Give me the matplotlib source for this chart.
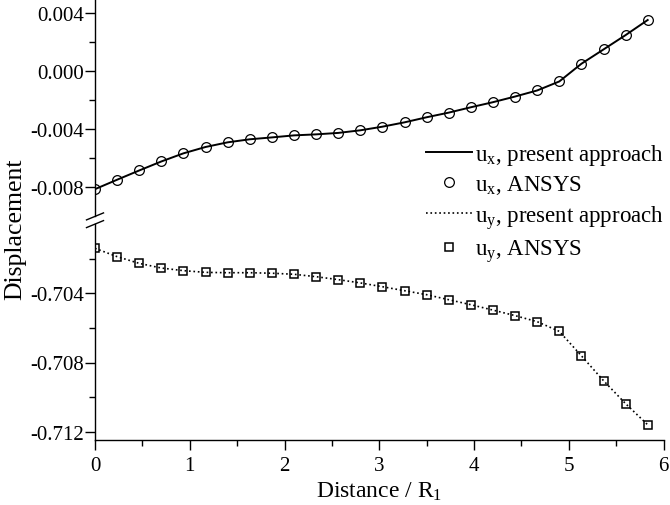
import numpy as np
import matplotlib
matplotlib.use("Agg")
import matplotlib.pyplot as plt
from matplotlib.ticker import MultipleLocator, FixedLocator, FormatStrFormatter

plt.rcParams['font.family'] = ['Liberation Serif', 'DejaVu Serif']
plt.rcParams['mathtext.fontset'] = 'custom'
plt.rcParams['mathtext.rm'] = 'Liberation Serif'
plt.rcParams['mathtext.it'] = 'Liberation Serif:italic'
plt.rcParams['axes.unicode_minus'] = False

# distance / R1
dist = [0.0, 0.233, 0.467, 0.7, 0.933, 1.167, 1.4, 1.633, 1.867, 2.1,
        2.333, 2.567, 2.8, 3.033, 3.267, 3.5, 3.733, 3.967, 4.2, 4.433,
        4.667, 4.9, 5.133, 5.367, 5.6, 5.833]

ux = [-0.00812, -0.00747, -0.00683, -0.00621, -0.00565, -0.00521, -0.00489,
      -0.00468, -0.00455, -0.00441, -0.00434, -0.00424, -0.00406, -0.00381,
      -0.00351, -0.00316, -0.00284, -0.00247, -0.00212, -0.00173, -0.00131,
      -0.00069, 0.00053, 0.00152, 0.00251, 0.00355]

uy = [-0.70140, -0.70188, -0.70227, -0.70254, -0.70269, -0.70279, -0.70281,
      -0.70281, -0.70284, -0.70290, -0.70304, -0.70321, -0.70340, -0.70362,
      -0.70385, -0.70408, -0.70437, -0.70466, -0.70497, -0.70529, -0.70564,
      -0.70620, -0.70761, -0.70905, -0.71038, -0.71160]

top_ticks = [-0.008, -0.004, 0.000, 0.004]
bot_ticks = [-0.712, -0.708, -0.704]

W, H = 670, 506
fig = plt.figure(figsize=(W / 100, H / 100), dpi=100)

left = 95 / W
width = (663.5 - 95) / W
ax_top = fig.add_axes([left, 1 - 217.4 / H, width, 217.4 / H])
ax_bot = fig.add_axes([left, 1 - 441.35 / H, width, (441.35 - 225.1) / H])

l1, = ax_top.plot(dist, ux, '-', color='black', lw=1.4)
m1, = ax_top.plot(dist, ux, 'o', mfc='none', mec='black', ms=7, mew=0.9, ls='none')
l2, = ax_bot.plot(dist, uy, ':', color='black', lw=1.2)
m2, = ax_bot.plot(dist, uy, 's', mfc='none', mec='black', ms=6, mew=1.1, ls='none')

ax_top.set_xlim(0, 6)
ax_bot.set_xlim(0, 6)
ax_top.set_ylim(-0.010, 0.005)
ax_bot.set_ylim(-0.7125, -0.700)

ax_top.yaxis.set_major_locator(FixedLocator(top_ticks))
ax_top.yaxis.set_minor_locator(FixedLocator([-0.006, -0.002, 0.002]))
ax_bot.yaxis.set_major_locator(FixedLocator(bot_ticks))
ax_bot.yaxis.set_minor_locator(FixedLocator([-0.710, -0.706, -0.702]))

for ax in (ax_top, ax_bot):
    for s in ('top', 'right'):
        ax.spines[s].set_visible(False)
    ax.spines['left'].set_linewidth(1.0)
    ax.spines['bottom'].set_linewidth(1.0)
    ax.yaxis.set_major_formatter(FormatStrFormatter('%.3f'))
    ax.tick_params(axis='both', which='major', direction='out', length=7,
                   width=1.0, labelsize=15, pad=1)
    ax.tick_params(axis='both', which='minor', direction='out', length=4, width=1.0)
    ax.set_facecolor('none')

ax_top.spines['bottom'].set_visible(False)
ax_top.tick_params(axis='x', which='both', bottom=False, labelbottom=False)
ax_bot.xaxis.set_major_locator(MultipleLocator(1))
ax_bot.xaxis.set_minor_locator(MultipleLocator(0.5))
ax_bot.tick_params(axis='x', which='major', pad=4)

# axis break marks
kw = dict(color='black', lw=1.0, clip_on=False)
dx, dy = 8.5 / (663.5 - 95), 3.5 / 217.4
ax_top.plot([-dx, dx], [-dy, dy], transform=ax_top.transAxes, **kw)
dy2 = 3.5 / (441.35 - 225.1)
ax_bot.plot([-dx, dx], [1 - dy2, 1 + dy2], transform=ax_bot.transAxes, **kw)

ax_bot.set_xlabel(r'Distance / R$_1$', fontsize=17, labelpad=4)
fig.text(15 / W, 1 - 229 / H, 'Displacement', rotation=90, fontsize=18.5,
         ha='center', va='center')

fig.legend([l1, m1, l2, m2],
           [r'u$_\mathrm{x}$, present approach', r'u$_\mathrm{x}$, ANSYS',
            r'u$_\mathrm{y}$, present approach', r'u$_\mathrm{y}$, ANSYS'],
           loc='upper right', bbox_to_anchor=(664 / W, 1 - 143 / H),
           frameon=False, fontsize=16.5, handlelength=2.0, handletextpad=0.12,
           labelspacing=0.28, borderpad=0, borderaxespad=0, numpoints=1)

fig.savefig('out.png', dpi=100)
